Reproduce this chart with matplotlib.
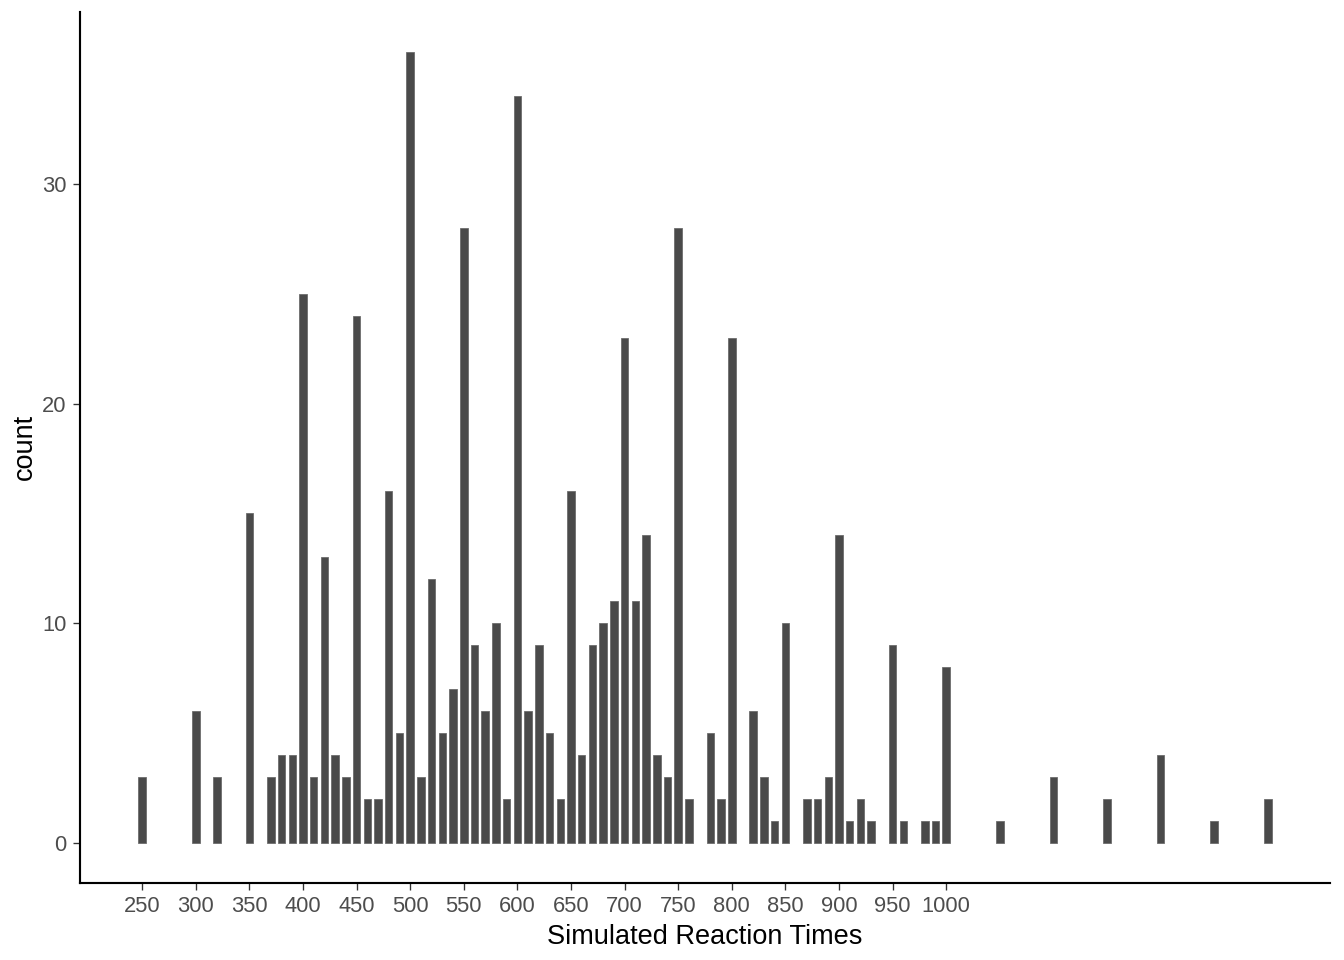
import matplotlib

matplotlib.use("Agg")

import matplotlib.pyplot as plt  # noqa: E402

# ── Data ──────────────────────────────────────────────────────────────────────
rt_values = [250, 300, 320, 350, 370, 380, 390, 400, 410, 420, 430, 440, 450,
             460, 470, 480, 490, 500, 510, 520, 530, 540, 550, 560, 570, 580,
             590, 600, 610, 620, 630, 640, 650, 660, 670, 680, 690, 700, 710,
             720, 730, 740, 750, 760, 780, 790, 800, 820, 830, 840, 850, 870,
             880, 890, 900, 910, 920, 930, 950, 960, 980, 990, 1000, 1050,
             1100, 1150, 1200, 1250, 1300]
counts = [3, 6, 3, 15, 3, 4, 4, 25, 3, 13, 4, 3, 24,
          2, 2, 16, 5, 36, 3, 12, 5, 7, 28, 9, 6, 10,
          2, 34, 6, 9, 5, 2, 16, 4, 9, 10, 11, 23, 11,
          14, 4, 3, 28, 2, 5, 2, 23, 6, 3, 1, 10, 2,
          2, 3, 14, 1, 2, 1, 9, 1, 1, 1, 8, 1,
          3, 2, 4, 1, 2]
x_ticks = list(range(250, 1001, 50))
y_ticks = [0, 10, 20, 30]

BAR = "#4a4a4a"
TICK_TXT = "#4d4d4d"

plt.rcParams.update({
    "font.family": ["Liberation Sans", "DejaVu Sans"],
    "figure.facecolor": "white",
    "axes.facecolor": "white",
})

fig = plt.figure(figsize=(7, 5), dpi=192)
ax = fig.add_axes([80 / 1344, 77 / 960, 1250 / 1344, 871 / 960])

ax.bar(rt_values, counts, width=7, color=BAR, edgecolor="#6a6a6a",
       linewidth=0.3, zorder=2)

ax.set_xlim(192, 1358)
ax.set_ylim(-1.8, 37.8)
ax.set_xticks(x_ticks)
ax.set_xticklabels([str(t) for t in x_ticks], fontsize=8.2, color=TICK_TXT)
ax.set_yticks(y_ticks)
ax.set_yticklabels([str(t) for t in y_ticks], fontsize=8.2, color=TICK_TXT)
ax.tick_params(axis="both", length=2.75, width=0.5, color="#333333", pad=2.2)

for sp in ("top", "right"):
    ax.spines[sp].set_visible(False)
for sp in ("left", "bottom"):
    ax.spines[sp].set_linewidth(0.8)
    ax.spines[sp].set_color("black")

ax.set_xlabel("Simulated Reaction Times", fontsize=10.2, color="black", labelpad=2.5)
fig.text(25 / 1344, 1 - 447 / 960, "count", rotation=90, ha="center",
         va="center", fontsize=10.2, color="black")

fig.savefig("out.png", dpi=192)
